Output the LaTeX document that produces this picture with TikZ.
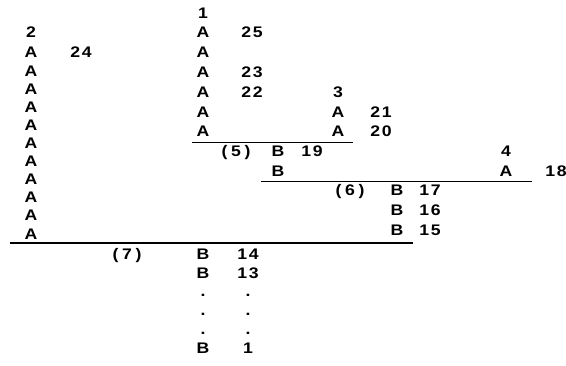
\documentclass[tikz,border=0pt]{standalone}
\usepackage{fontspec}
\setmainfont{Liberation Sans}[FakeStretch=1.15]
\makeatletter
\def\mytt#1{\mytt@#1\relax}
\def\mytt@#1{\ifx#1\relax\else\makebox[8.6pt]{#1}\expandafter\mytt@\fi}
\makeatother
\begin{document}
\begin{tikzpicture}[x=0.75pt,y=-0.75pt,
  lbl/.style={inner sep=0pt, anchor=base, font=\fontsize{11.5pt}{13pt}\selectfont\bfseries},
  rule/.style={line width=1.3pt}]
\useasboundingbox (0,0) rectangle (566,366);
% column 1
\node[lbl] (n2) at (31,38) {2};
\foreach \k in {0,...,10} \node[lbl] (c1a\k) at (31,{58+18.1*\k}) {A};
\node[lbl] (n24) at (81,58) {\mytt{24}};
% column 2
\node[lbl] (n1) at (203,19) {1};
\foreach \k in {0,...,5} \node[lbl] (c2a\k) at (203,{38+19.8*\k}) {A};
\node[lbl] (n25) at (252,38) {\mytt{25}};
\node[lbl] (n23) at (252,77.6) {\mytt{23}};
\node[lbl] (n22) at (252,97.4) {\mytt{22}};
% column 3
\node[lbl] (n3) at (338,97.4) {3};
\node[lbl] (c3a0) at (338,117.2) {A};
\node[lbl] (c3a1) at (338,137) {A};
\node[lbl] (n21) at (381,117.2) {\mytt{21}};
\node[lbl] (n20) at (381,137) {\mytt{20}};
% join 5
\coordinate (l5w) at (192,142.5);
\coordinate (l5e) at (353,142.5);
\draw[rule] (l5w) -- (l5e);
\node[lbl] (p5) at (236,157) {\mytt{(5)}};
\node[lbl] (b19) at (278,157) {B};
\node[lbl] (n19) at (312,157) {\mytt{19}};
\node[lbl] (b5) at (278,177) {B};
% column 4
\node[lbl] (n4) at (506,157) {4};
\node[lbl] (c4a0) at (506,177) {A};
\node[lbl] (n18) at (556,177) {\mytt{18}};
% join 6
\coordinate (l6w) at (261,181.5);
\coordinate (l6e) at (532,181.5);
\draw[rule] (l6w) -- (l6e);
\node[lbl] (p6) at (350,196) {\mytt{(6)}};
\node[lbl] (b17) at (397,196) {B};
\node[lbl] (n17) at (430,196) {\mytt{17}};
\node[lbl] (b16) at (397,216) {B};
\node[lbl] (n16) at (430,216) {\mytt{16}};
\node[lbl] (b15) at (397,236) {B};
\node[lbl] (n15) at (430,236) {\mytt{15}};
% join 7
\coordinate (l7w) at (10,243);
\coordinate (l7e) at (413,243);
\draw[rule] (l7w) -- (l7e);
\node[lbl] (p7) at (127,259) {\mytt{(7)}};
\node[lbl] (b14) at (203,259) {B};
\node[lbl] (n14) at (248,259) {\mytt{14}};
\node[lbl] (b13) at (203,278) {B};
\node[lbl] (n13) at (248,278) {\mytt{13}};
\foreach \k/\yy in {0/296,1/315,2/334} {
  \node[lbl] (dl\k) at (203,\yy) {.};
  \node[lbl] (dr\k) at (248,\yy) {.};
}
\node[lbl] (b1) at (203,353) {B};
\node[lbl] (n1b) at (248,353) {1};
\end{tikzpicture}
\end{document}
